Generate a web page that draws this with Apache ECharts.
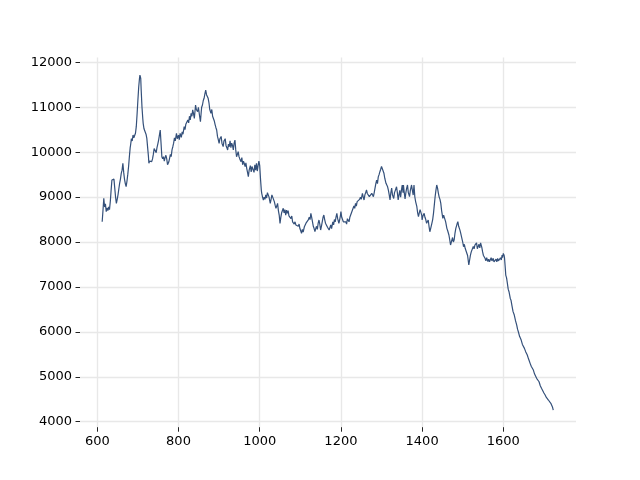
<!DOCTYPE html>
<html>
<head>
<meta charset="utf-8">
<script src="https://cdn.jsdelivr.net/npm/echarts@6/dist/echarts.min.js"></script>
<style>html,body{margin:0;padding:0;background:#fff}#c{width:640px;height:480px}</style>
</head>
<body>
<div id="c"></div>
<script>
const xTicks = [600, 800, 1000, 1200, 1400, 1600];
const yTicks = [4000, 5000, 6000, 7000, 8000, 9000, 10000, 11000, 12000];

const xValues = [
612,614,616,618,620,622,624,626,628,630,632,634,636,637,639,641,643,645,647,649,651,653,655,657,659,661,663,665,667,669,671,673,675,677,679,681,682,684,686,688,690,692,694,696,698,700,702,704,705,706,707,708,710,712,713,715,717,718,720,722,724,726,727,729,731,732,734,736,738,740,741,743,745,747,749,751,753,755,757,759,761,763,765,767,769,771,773,774,776,778,780,782,784,786,788,790,792,795,797,800,802,804,807,809,811,814,816,818,820,823,825,827,829,831,833,835,837,839,841,842,844,847,849,850,852,854,856,857,859,861,863,865,867,869,870,872,873,875,877,880,882,884,886,888,890,892,894,896,898,900,902,905,907,910,912,915,917,919,921,923,925,927,929,931,933,935,937,939,941,943,945,947,949,951,954,956,958,960,962,964,966,968,970,972,974,977,979,981,984,986,988,990,992,994,996,998,999,1000,1002,1004,1005,1007,1009,1011,1013,1015,1017,1019,1021,1023,1026,1028,1030,1032,1034,1036,1038,1040,1042,1044,1046,1048,1050,1052,1054,1056,1058,1060,1062,1064,1066,1068,1070,1072,1075,1077,1079,1081,1083,1085,1087,1089,1091,1093,1095,1097,1099,1101,1103,1105,1107,1110,1112,1114,1116,1118,1120,1122,1124,1126,1128,1130,1132,1134,1136,1138,1140,1142,1144,1146,1148,1150,1152,1154,1156,1158,1160,1162,1165,1167,1170,1171,1173,1175,1177,1180,1182,1184,1186,1188,1190,1192,1195,1197,1199,1200,1202,1204,1206,1208,1210,1212,1214,1216,1218,1220,1222,1224,1226,1228,1230,1232,1234,1236,1238,1240,1242,1244,1246,1248,1250,1253,1255,1257,1259,1261,1263,1265,1267,1270,1272,1274,1276,1278,1280,1282,1284,1286,1288,1290,1292,1294,1296,1298,1300,1302,1304,1306,1308,1311,1313,1315,1317,1319,1321,1323,1325,1327,1330,1332,1334,1337,1339,1341,1343,1345,1347,1349,1351,1353,1354,1356,1358,1360,1362,1364,1366,1369,1371,1374,1376,1378,1380,1382,1384,1387,1389,1391,1393,1395,1397,1399,1400,1402,1405,1407,1409,1411,1413,1415,1417,1419,1421,1424,1426,1428,1430,1432,1434,1436,1438,1440,1442,1444,1446,1448,1451,1453,1456,1458,1461,1463,1466,1468,1470,1472,1475,1477,1479,1481,1483,1486,1488,1490,1493,1495,1498,1500,1502,1504,1506,1508,1510,1512,1515,1517,1519,1521,1524,1526,1528,1530,1532,1534,1536,1538,1540,1542,1544,1547,1549,1551,1555,1557,1559,1562,1564,1566,1568,1570,1572,1575,1577,1580,1582,1584,1586,1588,1591,1593,1595,1597,1598,1600,1602,1603,1605,1606,1608,1610,1612,1614,1617,1619,1621,1624,1627,1630,1633,1635,1637,1640,1642,1644,1647,1650,1652,1655,1657,1659,1662,1664,1666,1669,1671,1674,1677,1679,1682,1685,1688,1691,1694,1697,1700,1703,1706,1709,1711,1714,1717,1719,1721,1723
];

const yValues = [
8452,8700,8973,8780,8850,8674,8760,8700,8780,8720,8900,9150,9380,9418,9350,9400,9200,9000,8861,8950,9050,9180,9307,9400,9529,9600,9752,9550,9400,9300,9231,9350,9500,9676,9900,10100,10159,10300,10250,10382,10320,10300,10420,10567,10850,11161,11450,11650,11717,11690,11640,11400,11012,10750,10642,10520,10560,10493,10400,10308,10100,9900,9752,9800,9760,9825,9790,9850,9950,10080,10121,10050,9990,10100,10180,10270,10380,10493,10200,9899,9850,9900,9800,9880,9930,9850,9720,9676,9780,9860,9950,9900,10050,10121,10200,10320,10250,10419,10300,10380,10280,10420,10330,10450,10400,10567,10500,10620,10580,10716,10650,10800,10720,10865,10800,10940,10860,10753,10950,11049,10950,10900,11000,10975,10800,10678,10900,11000,11050,11150,11199,11300,11383,11280,11310,11250,11199,11100,10950,10865,10950,10800,10840,10700,10620,10550,10493,10350,10280,10197,10300,10350,10200,10123,10250,10300,10150,10100,10048,10180,10120,10250,10100,10200,10150,10050,10200,10270,10050,9899,9950,10010,9900,9850,9788,9880,9720,9800,9750,9680,9760,9640,9550,9454,9600,9700,9560,9680,9640,9550,9720,9600,9750,9580,9700,9800,9841,9700,9400,9150,9084,9000,8935,9000,8950,9050,8980,9100,9120,9000,8861,8950,9050,9084,8950,8900,8820,8750,8800,8860,8700,8600,8416,8550,8650,8700,8750,8650,8720,8600,8712,8640,8700,8580,8601,8520,8580,8450,8490,8400,8450,8380,8340,8420,8350,8400,8300,8250,8193,8280,8220,8340,8300,8420,8380,8450,8500,8550,8500,8639,8550,8450,8350,8300,8230,8300,8350,8280,8420,8490,8400,8267,8350,8450,8550,8601,8500,8420,8400,8330,8350,8267,8305,8380,8300,8450,8380,8500,8450,8560,8639,8520,8416,8500,8600,8675,8550,8500,8450,8480,8416,8450,8400,8520,8500,8450,8550,8600,8639,8700,8750,8800,8750,8861,8800,8900,8935,8870,8950,9000,8950,9084,9000,8935,9050,9100,9158,9080,9050,9010,9050,8980,9084,9050,9010,9100,9200,9300,9380,9300,9450,9500,9565,9620,9680,9714,9650,9530,9420,9307,9350,9230,9150,9050,8935,9100,9200,9050,8970,9100,9150,9230,9100,8935,9050,9150,9000,9150,9269,9100,9269,9100,8960,9100,9200,9269,9100,9010,9150,9269,9150,9046,9269,9008,8900,8786,8650,8563,8650,8720,8750,8600,8490,8580,8640,8550,8500,8416,8450,8490,8350,8229,8300,8416,8500,8638,8820,9008,9150,9269,9200,9090,9000,8950,8861,8700,8527,8600,8600,8450,8305,8250,8156,8050,7933,8000,8100,8000,8050,8200,8305,8400,8452,8350,8270,8200,8156,8000,7895,7950,7860,7900,7822,7700,7488,7600,7710,7780,7822,7900,7850,7933,7900,7980,7850,7822,7950,7870,7980,7880,7780,7700,7637,7580,7650,7562,7620,7560,7600,7650,7580,7637,7560,7530,7620,7560,7637,7580,7600,7650,7600,7711,7650,7748,7700,7640,7400,7265,7200,7080,6950,6894,6750,6700,6597,6450,6375,6250,6152,6060,6003,5900,5880,5818,5720,5690,5633,5560,5520,5484,5400,5350,5299,5230,5200,5150,5060,5030,4966,4930,4890,4800,4743,4700,4640,4594,4540,4500,4483,4450,4409,4420,4330,4260
];

const seriesData = xValues.map((x, i) => [x, yValues[i]]);

const chart = echarts.init(document.getElementById('c'), null, {renderer: 'canvas'});
const labelStyle = {color: '#000', fontFamily: 'DejaVu Sans', fontSize: 13, formatter: v => String(v)};
chart.setOption({
  animation: false,
  backgroundColor: '#fff',
  grid: {left: 80, right: 64, top: 57.6, bottom: 52.8, containLabel: false},
  xAxis: {
    type: 'value', min: 557.4, max: 1779,
    axisLine: {show: false},
    axisTick: {show: true, length: 4.5, lineStyle: {color: '#222', width: 1}, customValues: xTicks},
    axisLabel: Object.assign({margin: 8, customValues: xTicks}, labelStyle),
    splitLine: {show: true, lineStyle: {color: '#e8e8e8', width: 1.4}, customValues: xTicks}
  },
  yAxis: {
    type: 'value', min: 3878, max: 12105,
    axisLine: {show: false},
    axisTick: {show: true, length: 4.5, lineStyle: {color: '#222', width: 1}, customValues: yTicks},
    axisLabel: Object.assign({margin: 8, customValues: yTicks}, labelStyle),
    splitLine: {show: true, lineStyle: {color: '#e8e8e8', width: 1.4}, customValues: yTicks}
  },
  series: [{
    type: 'line', data: seriesData, showSymbol: false, symbol: 'none',
    lineStyle: {color: '#34507a', width: 1.2}
  }]
});
</script>
</body>
</html>
